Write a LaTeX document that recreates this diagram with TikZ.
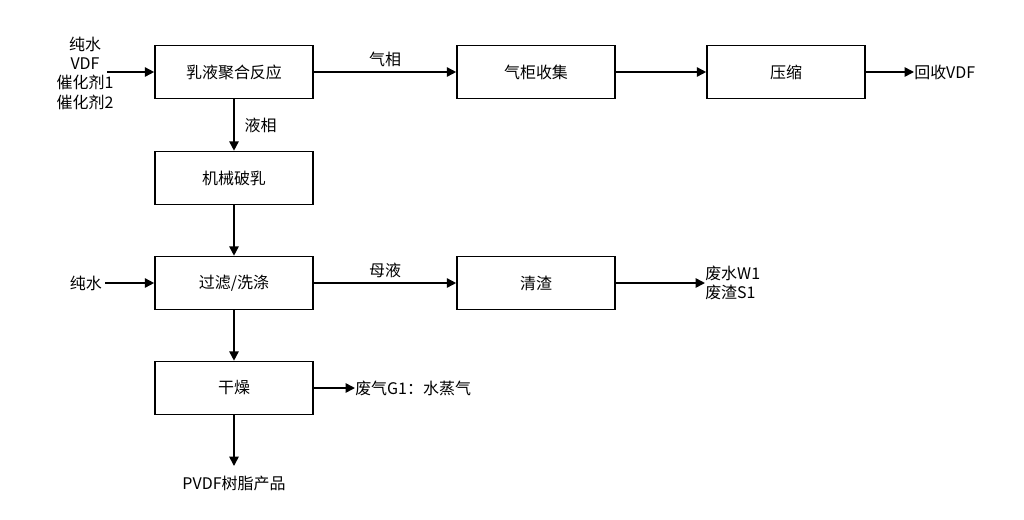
\documentclass[tikz,border=0pt]{standalone}
\usepackage{fontspec}
\setmainfont{Noto Sans CJK SC}
\usetikzlibrary{arrows.meta}
\usetikzlibrary{shapes}

\begin{document}
\begin{tikzpicture}[x = 0.0264cm, y = -0.0264cm, font=\fontsize{12}{14.5}\selectfont]
	\tikzstyle{boxStyle} = [draw, line width = 1.2pt, minimum width = 158*0.0264cm, minimum height = 53*0.0264cm, inner sep = 0pt]
	\tikzstyle{flowStyle} = [draw, line width = 1.2pt, -{Triangle[length=7pt, width=7pt]}]
	\useasboundingbox (0,0) rectangle (1024,519);
	\node[boxStyle] (react) at (234,72) {乳液聚合反应};
	\node[boxStyle] (gasholder) at (536,72) {气柜收集};
	\node[boxStyle] (compress) at (786,72) {压缩};
	\node[boxStyle] (breaker) at (234,178) {机械破乳};
	\node[boxStyle] (filter) at (234,283) {过滤/洗涤};
	\node[boxStyle] (slag) at (536,283) {清渣};
	\node[boxStyle] (dryer) at (234,388) {干燥};
	\node[align = center, inner sep = 0pt] (feed) at (85,73) {纯水\\VDF\\催化剂1\\催化剂2};
	\node[anchor = west, inner sep = 0pt] (vdf) at (914,72) {回收VDF};
	\node[anchor = east, inner sep = 0pt] (water) at (102,283) {纯水};
	\node[anchor = west, align = left, inner sep = 0pt] (waste) at (705,283) {废水W1\\废渣S1};
	\node[anchor = west, inner sep = 0pt] (steam) at (355,388) {废气G1：水蒸气};
	\node[inner sep = 0pt] (product) at (234,483) {PVDF树脂产品};
	\coordinate (feedEnd) at (107,72);
	\coordinate (waterEnd) at (105,283);
	\coordinate (prodEnd) at (234,466);
	\draw[flowStyle] (feedEnd) -- (react);
	\draw[flowStyle] (react) -- node[above] {气相} (gasholder);
	\draw[flowStyle] (gasholder) -- (compress);
	\draw[flowStyle] (compress) -- (vdf);
	\draw[flowStyle] (react) -- node[right, xshift = 4pt] {液相} (breaker);
	\draw[flowStyle] (breaker) -- (filter);
	\draw[flowStyle] (waterEnd) -- (filter);
	\draw[flowStyle] (filter) -- node[above] {母液} (slag);
	\draw[flowStyle] (slag) -- (waste.west);
	\draw[flowStyle] (filter) -- (dryer);
	\draw[flowStyle] (dryer) -- (steam);
	\draw[flowStyle] (dryer) -- (prodEnd);
\end{tikzpicture}
\end{document}
